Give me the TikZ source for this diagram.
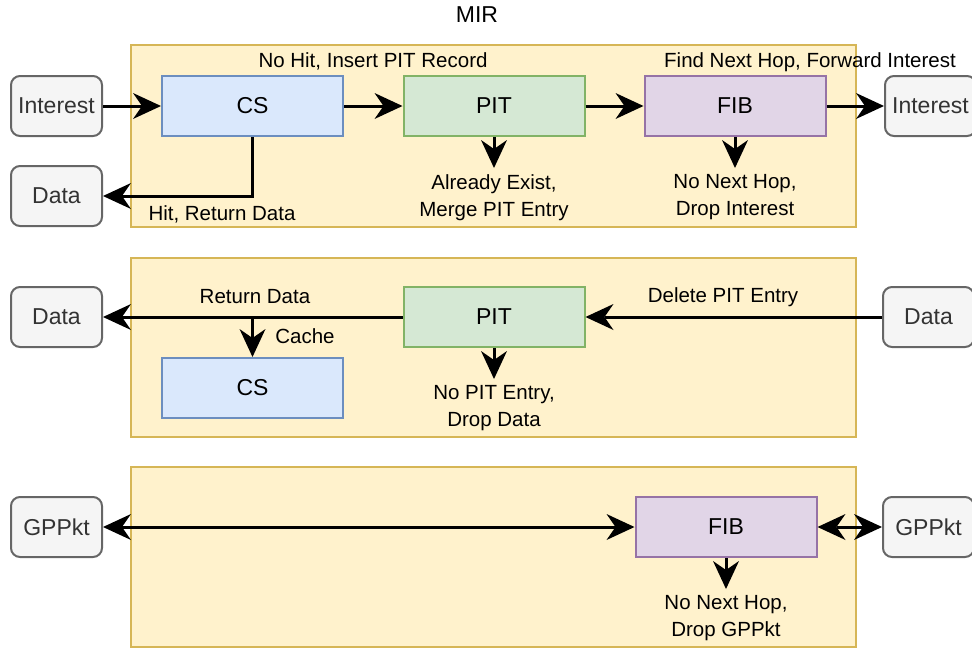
\documentclass[tikz,border=0pt]{standalone}
\usepackage{fontspec}
\setmainfont{Liberation Sans}
\usetikzlibrary{arrows.meta,positioning}
\definecolor{ylwF}{HTML}{FFF2CC}\definecolor{ylwS}{HTML}{D6B656}
\definecolor{gryF}{HTML}{F5F5F5}\definecolor{gryS}{HTML}{666666}\definecolor{gryT}{HTML}{333333}
\definecolor{bluF}{HTML}{DAE8FC}\definecolor{bluS}{HTML}{6C8EBF}
\definecolor{grnF}{HTML}{D5E8D4}\definecolor{grnS}{HTML}{82B366}
\definecolor{purF}{HTML}{E1D5E7}\definecolor{purS}{HTML}{9673A6}
\begin{document}
\begin{tikzpicture}[x=1pt,y=-1pt,
  panel/.style={draw=ylwS,fill=ylwF,line width=2pt},
  pkt/.style={draw=gryS,fill=gryF,text=gryT,line width=2pt,rounded corners=9pt,minimum width=91pt,minimum height=60pt,inner sep=0pt,font=\fontsize{23}{27}\selectfont},
  blk/.style={line width=2pt,minimum width=181pt,minimum height=60pt,inner sep=0pt,font=\fontsize{23}{27}\selectfont},
  csbox/.style={blk,draw=bluS,fill=bluF},
  pitbox/.style={blk,draw=grnS,fill=grnF},
  fibbox/.style={blk,draw=purS,fill=purF},
  lbl/.style={font=\fontsize{20.5}{27}\selectfont,align=center,inner sep=0pt},
  tipA/.tip={Stealth[length=28pt 0,width=26pt 0,inset=9pt 0,line width=0pt]},
  flow/.style={line width=3pt,-tipA},
  flow2/.style={line width=3pt,tipA-tipA}
]
\useasboundingbox (0,0) rectangle (972,648);
% panels
\draw[panel] (131,45) rectangle (856,227);
\draw[panel] (131,258) rectangle (856,437);
\draw[panel] (131,467) rectangle (856,647);
\node[font=\fontsize{23}{27}\selectfont] (title) at (477,15) {MIR};
% section 1
\node[pkt] (intL) at (56.5,106) {Interest};
\node[pkt] (dataL1) at (56.5,196) {Data};
\node[csbox] (cs1) at (252.5,106) {CS};
\node[pitbox] (pit1) at (494,106) {PIT};
\node[fibbox] (fib1) at (735,106) {FIB};
\node[pkt] (intR) at (930.5,106) {Interest};
\coordinate (pitdrop1) at (494,168);
\coordinate (fibdrop1) at (735,168);
\draw[flow] (intL) -- (cs1);
\draw[flow] (cs1) -- (pit1);
\draw[flow] (pit1) -- (fib1);
\draw[flow] (fib1) -- (intR);
\draw[flow] (cs1.south) |- (dataL1.east);
\draw[flow] (pit1.south) -- (pitdrop1);
\draw[flow] (fib1.south) -- (fibdrop1);
\node[lbl] (l1) at (373,61) {No Hit, Insert PIT Record};
\node[lbl] (l2) at (810,62) {Find Next Hop, Forward Interest};
\node[lbl] (l3) at (222,214) {Hit, Return Data};
\node[lbl,below=6pt of pitdrop1] (l4) {Already Exist,\\Merge PIT Entry};
\node[lbl,below=6pt of fibdrop1] (l5) {No Next Hop,\\Drop Interest};
% section 2
\node[pkt] (dataL2) at (56.5,317) {Data};
\node[pitbox] (pit2) at (494,317) {PIT};
\node[csbox] (cs2) at (252.5,388) {CS};
\node[pkt] (dataR2) at (928.5,317) {Data};
\coordinate (br) at (cs2.north |- pit2.west);
\coordinate (pitdrop2) at (494,379);
\draw[flow] (dataR2) -- (pit2);
\draw[flow] (pit2) -- (dataL2);
\draw[flow] (br) -- (cs2.north);
\draw[flow] (pit2.south) -- (pitdrop2);
\node[lbl] (l6) at (255,297) {Return Data};
\node[lbl] (l7) at (723,297) {Delete PIT Entry};
\node[lbl] (l8) at (305,336) {Cache};
\node[lbl,below=6pt of pitdrop2] (l9) {No PIT Entry,\\Drop Data};
% section 3
\node[pkt] (gpL) at (56.5,527) {GPPkt};
\node[fibbox] (fib3) at (726,527) {FIB};
\node[pkt] (gpR) at (928.5,527) {GPPkt};
\coordinate (fibdrop3) at (726,589);
\draw[flow2] (gpL) -- (fib3);
\draw[flow2] (fib3) -- (gpR);
\draw[flow] (fib3.south) -- (fibdrop3);
\node[lbl,below=6pt of fibdrop3] (l10) {No Next Hop,\\Drop GPPkt};
\end{tikzpicture}
\end{document}
